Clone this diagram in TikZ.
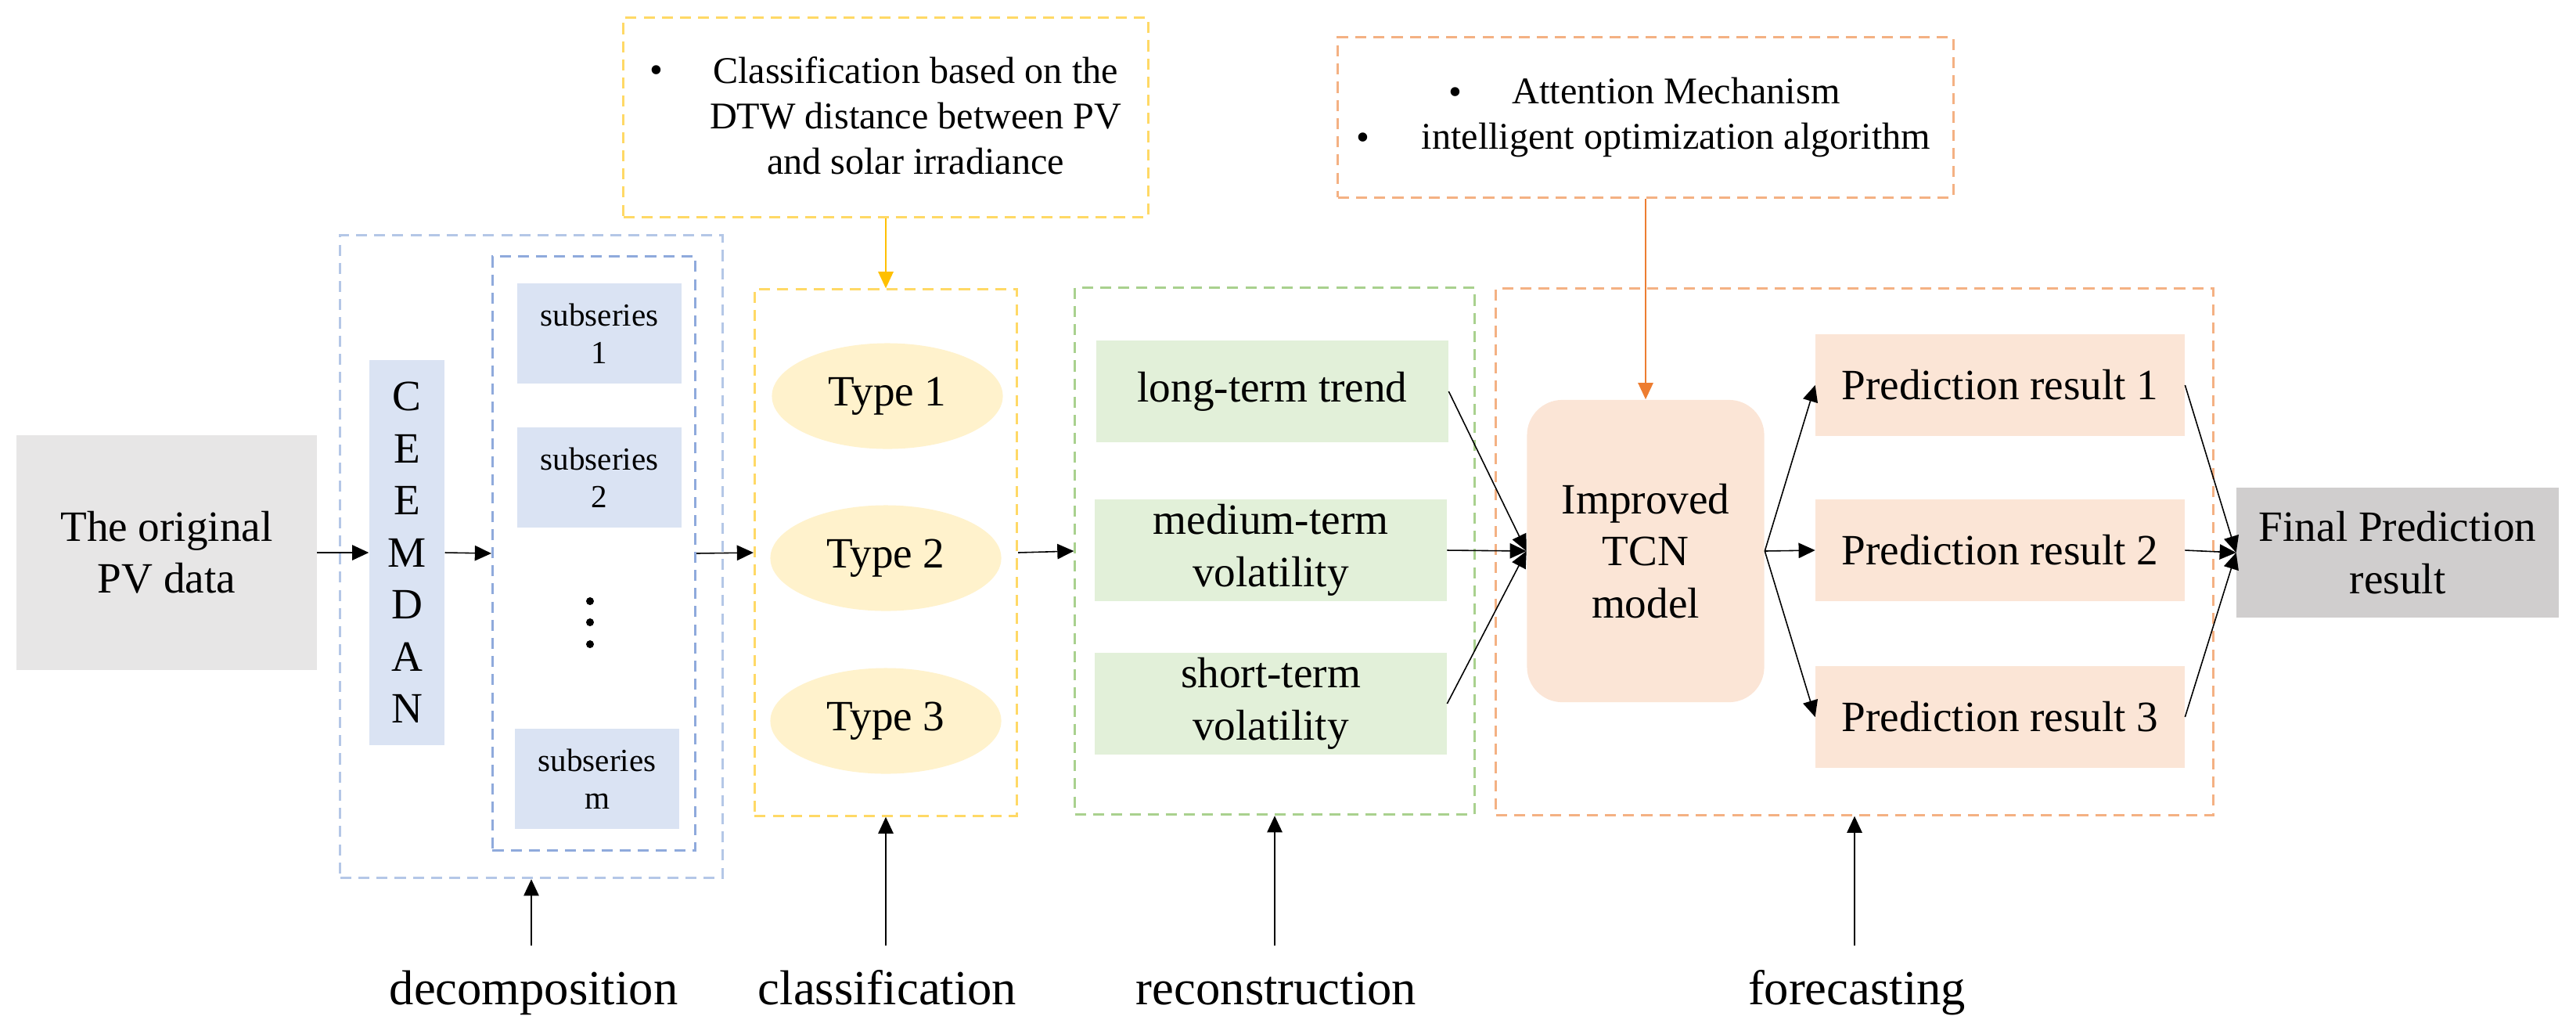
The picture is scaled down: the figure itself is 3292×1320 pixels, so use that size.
\documentclass[tikz,border=0pt]{standalone}
\usepackage{fontspec}
\setmainfont{Liberation Serif}
\usetikzlibrary{arrows.meta,shapes.geometric}

\definecolor{pvgrey}{HTML}{E7E6E6}
\definecolor{finalgrey}{HTML}{D0CECE}
\definecolor{lightblue}{HTML}{DAE3F3}
\definecolor{decompblue}{HTML}{B4C7E7}
\definecolor{subblue}{HTML}{8FAADC}
\definecolor{clsyellow}{HTML}{FFD966}
\definecolor{typeyellow}{HTML}{FFF2CC}
\definecolor{arrowyellow}{HTML}{FFC000}
\definecolor{recgreen}{HTML}{A9D18E}
\definecolor{greenfill}{HTML}{E2F0D9}
\definecolor{fcorange}{HTML}{F4B183}
\definecolor{orangefill}{HTML}{FBE5D6}
\definecolor{arroworange}{HTML}{ED7D31}

\begin{document}
\begin{tikzpicture}
    [
      x=0.01cm, y=-0.01cm,
      every node/.style={inner sep=0pt,font=\fontsize{15.7}{18.9}\selectfont},
      box/.style={rectangle,align=center},
      plate/.style={rectangle,draw,dash pattern=on 4pt off 2.6pt,line width=0.85pt},
      sub/.style={box,fill=lightblue,minimum width=2.09cm,minimum height=1.28cm,font=\fontsize{11.7}{13.6}\selectfont},
      type/.style={ellipse,fill=typeyellow,minimum width=2.95cm,minimum height=1.35cm},
      trend/.style={box,fill=greenfill,minimum width=4.49cm,minimum height=1.29cm},
      pred/.style={box,fill=orangefill,minimum width=4.71cm,minimum height=1.29cm},
      notetext/.style={align=center,font=\fontsize{13.7}{16.5}\selectfont},
      stage/.style={anchor=base,text height=12.6pt,text depth=3.9pt,font=\fontsize{17.8}{21}\selectfont},
      post/.style={-{Triangle[length=6pt,width=5.5pt]},line width=0.45pt},
    ]

    \useasboundingbox (0,0) rectangle (3292,1320);

    \node (pv-data) [box,fill=pvgrey,minimum width=3.83cm,minimum height=2.99cm] at (213,706) {The original\\PV data};

    \node (plate-decomp) [plate,draw=decompblue,minimum width=4.88cm,minimum height=8.21cm] at (679,711) {};
    \node (ceemdan) [box,fill=lightblue,minimum width=0.96cm,minimum height=4.92cm] at (520,706) {C\\E\\E\\M\\D\\A\\N};
    \node (plate-sub) [plate,draw=subblue,minimum width=2.59cm,minimum height=7.58cm] at (759,707) {};
    \node (sub-1) [sub] at (766,426) {subseries\\1};
    \node (sub-2) [sub] at (766,610) {subseries\\2};
    \node (sub-m) [sub] at (763,995) {subseries\\m};
    \foreach \dy in {768,795,823}
      \fill (754,\dy) circle (0.05cm);

    \node (plate-cls) [plate,draw=clsyellow,minimum width=3.35cm,minimum height=6.72cm] at (1132,706) {};
    \node (type-1) [type] at (1134,506) {Type 1};
    \node (type-2) [type] at (1132,713) {Type 2};
    \node (type-3) [type] at (1132,921) {Type 3};

    \node (plate-clsnote) [plate,draw=clsyellow,minimum width=6.70cm,minimum height=2.54cm] at (1132,150) {};
    \node (cls-note) [notetext] at (1170,148) {Classification based on the\\DTW distance between PV\\and solar irradiance};
    \node (cls-bullet) [notetext] at (839,95) {\textbullet};

    \node (plate-rec) [plate,draw=recgreen,minimum width=5.10cm,minimum height=6.73cm] at (1629,704) {};
    \node (long-term) [trend] at (1626,500) {long-term trend};
    \node (medium-term) [trend] at (1624,703) {medium-term\\volatility};
    \node (short-term) [trend] at (1624,899) {short-term\\volatility};

    \node (plate-fc) [plate,draw=fcorange,minimum width=9.16cm,minimum height=6.72cm] at (2370,705) {};
    \node (tcn) [box,fill=orangefill,rounded corners=0.45cm,minimum width=3.03cm,minimum height=3.86cm] at (2103,704) {Improved\\TCN\\model};
    \node (pred-1) [pred] at (2556,492) {Prediction result 1};
    \node (pred-2) [pred] at (2556,703) {Prediction result 2};
    \node (pred-3) [pred] at (2556,916) {Prediction result 3};

    \node (plate-fcnote) [plate,draw=fcorange,minimum width=7.86cm,minimum height=2.04cm] at (2103,150) {};
    \node (fc-note) [notetext] at (2142,150) {Attention Mechanism\\intelligent optimization algorithm};
    \node (fc-bullet-1) [notetext] at (1860,123) {\textbullet};
    \node (fc-bullet-2) [notetext] at (1742,181) {\textbullet};

    \node (final) [box,fill=finalgrey,minimum width=4.11cm,minimum height=1.66cm] at (3064,706) {Final Prediction\\result};

    \node (decomp-label) [stage] at (682,1283) {decomposition};
    \node (cls-label) [stage] at (1134,1283) {classification};
    \node (rec-label) [stage] at (1631,1283) {reconstruction};
    \node (fc-label) [stage] at (2373,1283) {forecasting};

    \path
    (pv-data.east) edge [post] (ceemdan.west)
    (ceemdan.east) edge [post] (plate-sub.west)
    (plate-sub.east) edge [post] (plate-cls.west)
    (plate-cls.east) edge [post] (plate-rec.west)

    (long-term.east) edge [post] (tcn.west)
    (medium-term.east) edge [post] (tcn.west)
    (short-term.east) edge [post] (tcn.west)

    (tcn.east) edge [post] (pred-1.west)
    (tcn.east) edge [post] (pred-2.west)
    (tcn.east) edge [post] (pred-3.west)

    (pred-1.east) edge [post] (final.west)
    (pred-2.east) edge [post] (final.west)
    (pred-3.east) edge [post] (final.west)

    (plate-clsnote.south) edge [post,draw=arrowyellow,fill=arrowyellow] (plate-cls.north)
    (plate-fcnote.south) edge [post,draw=arroworange,fill=arroworange] (tcn.north)
    ;

    \draw [post] ([yshift=0.3cm]plate-decomp.south |- decomp-label.north) -- (plate-decomp.south);
    \draw [post] ([yshift=0.3cm]plate-cls.south |- cls-label.north) -- (plate-cls.south);
    \draw [post] ([yshift=0.3cm]plate-rec.south |- rec-label.north) -- (plate-rec.south);
    \draw [post] ([yshift=0.3cm]plate-fc.south |- fc-label.north) -- (plate-fc.south);

  \end{tikzpicture}
\end{document}
